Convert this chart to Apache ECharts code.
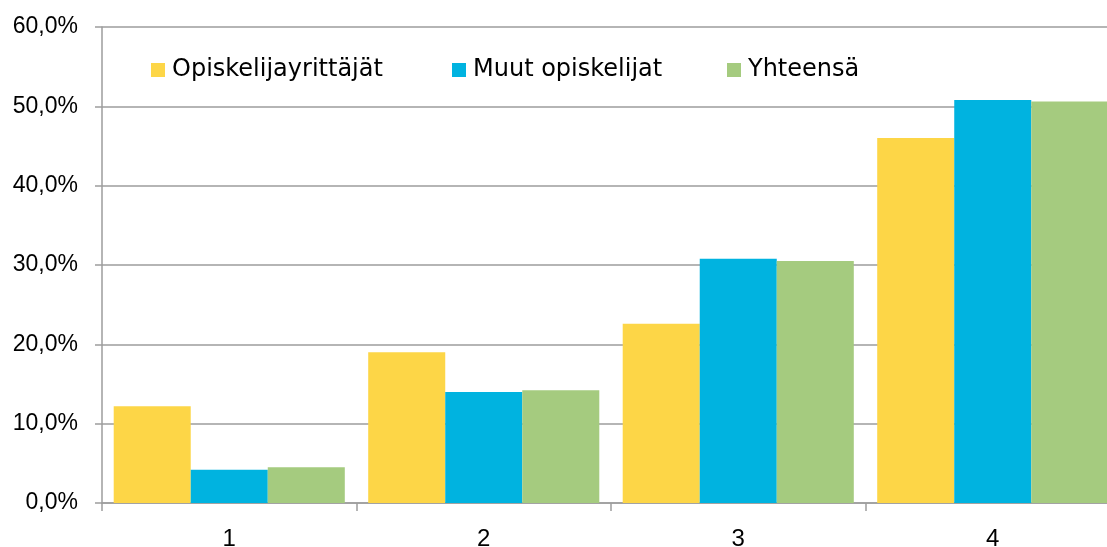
<!DOCTYPE html>
<html>
<head>
<meta charset="utf-8">
<script src="https://cdn.jsdelivr.net/npm/echarts@6/dist/echarts.min.js"></script>
<style>
  html, body { margin: 0; padding: 0; background: #fff; }
  #chart { width: 1107px; height: 547px; }
</style>
</head>
<body>
<div id="chart"></div>
<script>
const categories = ['1', '2', '3', '4']
const seriesNames = ['Opiskelijayrittäjät', 'Muut opiskelijat', 'Yhteensä']
const opiskelijayrittajat = [12.2, 19.0, 22.6, 46.0]
const muutOpiskelijat = [4.2, 14.0, 30.8, 50.8]
const yhteensa = [4.5, 14.2, 30.5, 50.6]
const yTicks = [0, 10, 20, 30, 40, 50, 60]

const colors = ['#FDD647', '#00B3E0', '#A5CB7F']
const legendLeft = [151, 452, 727]

const chart = echarts.init(document.getElementById('chart'))

function legendFor(i) {
  return {
    show: true,
    data: [seriesNames[i]],
    left: legendLeft[i],
    top: 58,
    icon: 'rect',
    itemWidth: 14,
    itemHeight: 14,
    padding: 0,
    textStyle: {
      fontFamily: 'DejaVu Sans',
      fontSize: 24,
      color: '#000',
      padding: [0, 0, 0, 2]
    }
  }
}

let option = {
  animation: false,
  color: colors,
  legend: [legendFor(0), legendFor(1), legendFor(2)],
  grid: {
    left: 102,
    top: 27,
    width: 1018,
    height: 476,
    outerBoundsMode: 'none',
    containLabel: false
  },
  xAxis: {
    type: 'category',
    data: categories,
    axisLine: { lineStyle: { color: '#9d9d9d', width: 1.5 } },
    axisTick: { show: true, length: 8, lineStyle: { color: '#9d9d9d', width: 1.5 } },
    axisLabel: {
      margin: 24,
      fontFamily: 'Liberation Sans',
      fontSize: 24,
      color: '#000'
    }
  },
  yAxis: {
    type: 'value',
    min: yTicks[0],
    max: yTicks[yTicks.length - 1],
    interval: 10,
    axisLine: { show: true, lineStyle: { color: '#9d9d9d', width: 1.5 } },
    axisTick: { show: true, length: 7, lineStyle: { color: '#9d9d9d', width: 1.5 } },
    splitLine: { lineStyle: { color: '#9d9d9d', width: 1.5 } },
    axisLabel: {
      margin: 24,
      fontFamily: 'Liberation Sans',
      fontSize: 23,
      color: '#000',
      formatter: function (v) {
        return v.toFixed(1).replace('.', ',') + '%'
      }
    }
  },
  series: [
    {
      name: seriesNames[0],
      type: 'bar',
      data: opiskelijayrittajat,
      barGap: '0%',
      barCategoryGap: '9.2%'
    },
    {
      name: seriesNames[1],
      type: 'bar',
      data: muutOpiskelijat,
      barGap: '0%',
      barCategoryGap: '9.2%'
    },
    {
      name: seriesNames[2],
      type: 'bar',
      data: yhteensa,
      barGap: '0%',
      barCategoryGap: '9.2%'
    }
  ]
}

chart.setOption(option)
</script>
</body>
</html>
